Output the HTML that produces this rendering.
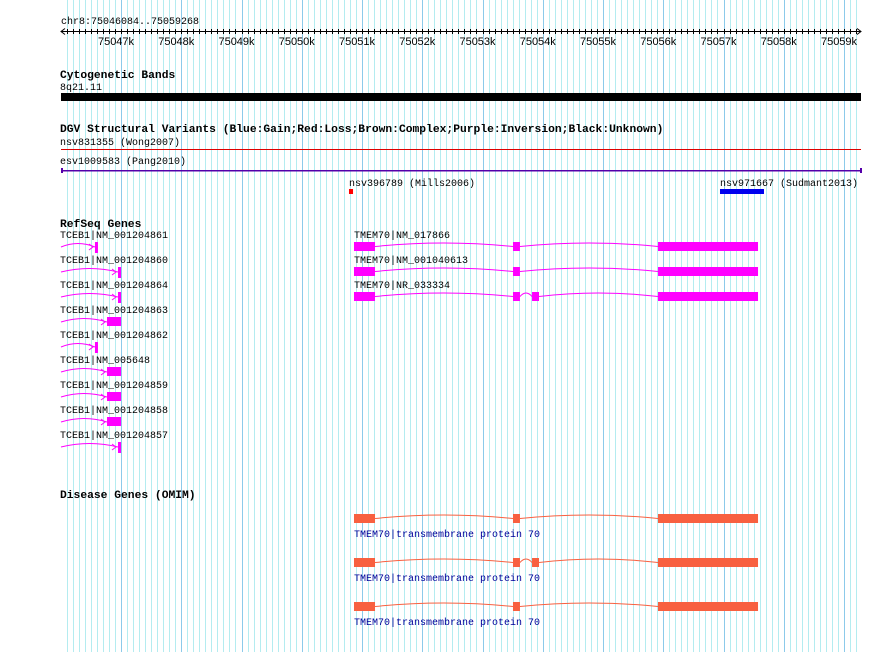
<!DOCTYPE html>
<html><head><meta charset="utf-8"><style>
html,body{margin:0;padding:0;background:#fff;}
#wrap{position:relative;width:890px;height:652px;overflow:hidden;}
svg text{font-family:"Liberation Mono",monospace;font-size:10px;}
.b{font-weight:bold;font-size:11.3px;}
.s{font-family:"Liberation Sans",sans-serif;font-size:11px;}
</style></head><body>
<div id="wrap">
<svg id="c" width="890" height="652" xmlns="http://www.w3.org/2000/svg"></svg>
</div>
<script>
const viewStart = 75046084, viewEnd = 75059268;
const kbTicks = [75047000,75048000,75049000,75050000,75051000,75052000,75053000,75054000,75055000,75056000,75057000,75058000,75059000];
const tickLabels = ["75047k","75048k","75049k","75050k","75051k","75052k","75053k","75054k","75055k","75056k","75057k","75058k","75059k"];
const tmemNames = ["TMEM70|NM_017866","TMEM70|NM_001040613","TMEM70|NR_033334"];
const tmemExonsA = [[75050867,75051216],[75053506,75053622],[75055913,75057573]];
const tmemExonsB = [[75050867,75051216],[75053506,75053622],[75053822,75053938],[75055913,75057573]];
const tmemExons = [tmemExonsA,tmemExonsA,tmemExonsB];
const omimExons = [tmemExonsA,tmemExonsB,tmemExonsA];
const tcebNames = ["TCEB1|NM_001204861","TCEB1|NM_001204860","TCEB1|NM_001204864","TCEB1|NM_001204863","TCEB1|NM_001204862","TCEB1|NM_005648","TCEB1|NM_001204859","TCEB1|NM_001204858","TCEB1|NM_001204857"];
const tcebExon = [[75046568,75046618],[75046950,75047000],[75046950,75047000],[75046768,75047000],[75046568,75046618],[75046768,75047000],[75046768,75047000],[75046768,75047000],[75046950,75047000]];
const dgvSmall = [[75050784,75050851,"nsv396789 (Mills2006)","#ff0000"],[75056942,75057672,"nsv971667 (Sudmant2013)","#0000ee"]];

const X = bp => 121 + (bp-75047000)*0.06025;
const svg = document.getElementById('c');
const NS='http://www.w3.org/2000/svg';
function mk(tag, attrs, name, txt){
  const e=document.createElementNS(NS,tag);
  for(const k in attrs) e.setAttribute(k,attrs[k]);
  
  
  if(txt!==undefined) e.textContent=txt;
  svg.appendChild(e); return e;
}
// grid
for(let bp=Math.ceil(viewStart/100)*100; bp<=viewEnd; bp+=100){
  const major = bp%1000===0;
  const x=Math.round(X(bp))+0.5;
  mk('line',{x1:x,y1:0,x2:x,y2:652,stroke:major?'#8ccaea':'#b4ecf0','stroke-width':1},'grid-line');
}
// ruler
mk('text',{x:61,y:24},'ruler-range','chr8:75046084..75059268');
mk('line',{x1:61,y1:31.5,x2:861,y2:31.5,stroke:'#000'},'ruler-axis');
mk('path',{d:'M65,28.5 L61,31.5 L65,34.5 M857,28.5 L861,31.5 L857,34.5',stroke:'#000',fill:'none'},'ruler-arrows');
for(let bp=Math.ceil(viewStart/100)*100; bp<=viewEnd; bp+=100){
  const x=Math.round(X(bp))+0.5;
  mk('line',{x1:x,y1:29,x2:x,y2:34,stroke:'#000'},'ruler-tick');
}
kbTicks.forEach((bp,i)=>{
  mk('text',{x:X(bp)-5,y:45,'text-anchor':'middle',class:'s'},'tick-label',tickLabels[i]);
});
// cytoband
mk('text',{x:60,y:78,class:'b'},'cytoband-title','Cytogenetic Bands');
mk('text',{x:60,y:90},'cytoband-name','8q21.11');
mk('rect',{x:61,y:93,width:800,height:8,fill:'#000'},'cytoband-bar');
// DGV
mk('text',{x:60,y:132,class:'b'},'dgv-title','DGV Structural Variants (Blue:Gain;Red:Loss;Brown:Complex;Purple:Inversion;Black:Unknown)');
mk('text',{x:60,y:145},'dgv-label','nsv831355 (Wong2007)');
mk('rect',{x:61,y:149,width:800,height:1,fill:'#dd0000'},'dgv-nsv831355');
mk('text',{x:60,y:164},'dgv-label','esv1009583 (Pang2010)');
mk('rect',{x:61,y:170,width:800,height:1.5,fill:'#5500aa'},'dgv-esv1009583');
mk('rect',{x:61,y:168,width:2,height:5,fill:'#5500aa'},'dgv-end');
mk('rect',{x:860,y:168,width:2,height:5,fill:'#5500aa'},'dgv-end');
dgvSmall.forEach(d=>{
  mk('text',{x:X(d[0]),y:186},'dgv-label',d[2]);
  mk('rect',{x:X(d[0]),y:189,width:X(d[1])-X(d[0]),height:5,fill:d[3]},'dgv-variant');
});
// RefSeq
mk('text',{x:60,y:227,class:'b'},'refseq-title','RefSeq Genes');
function intronPath(x1,x2,y){
  const m=(x1+x2)/2; return `M${x1},${y} Q${m},${y-7} ${x2},${y}`;
}
function drawGene(exons,y,color,name){
  for(let i=0;i<exons.length-1;i++){
    const a=X(exons[i][1]), b=X(exons[i+1][0]);
    mk('path',{d:intronPath(a,b,y+4.5),stroke:color,fill:'none','stroke-width':1},'intron');
  }
  exons.forEach(e=>mk('rect',{x:X(e[0]),y:y,width:Math.max(3,X(e[1])-X(e[0])),height:9,fill:color},name));
}
tmemNames.forEach((n,i)=>{
  const y=242+i*25;
  mk('text',{x:354,y:y-4},'gene-label',n);
  drawGene(tmemExons[i],y,'#ff00ff','tmem70-exon');
});
tcebNames.forEach((n,i)=>{
  const y=242+i*25;
  mk('text',{x:60,y:y-4},'gene-label',n);
  const a=X(tcebExon[i][0]), b=X(tcebExon[i][1]);
  mk('path',{d:intronPath(61,a,y+5),stroke:'#ff00ff',fill:'none'},'intron');
  mk('path',{d:`M${a-6},${y+2} L${a-2},${y+5} L${a-6},${y+8}`,stroke:'#ff00ff',fill:'none'},'strand-arrow');
  mk('rect',{x:a,y:y,width:Math.max(3,b-a),height:b-a>5?9:11,fill:'#ff00ff'},'tceb1-exon');
});
// OMIM
mk('text',{x:60,y:498,class:'b'},'omim-title','Disease Genes (OMIM)');
omimExons.forEach((ex,i)=>{
  const y=514+i*44;
  drawGene(ex,y,'#f86040','omim-exon');
  mk('text',{x:354,y:y+23,fill:'#000099'},'omim-label','TMEM70|transmembrane protein 70');
});
</script>
</body></html>
